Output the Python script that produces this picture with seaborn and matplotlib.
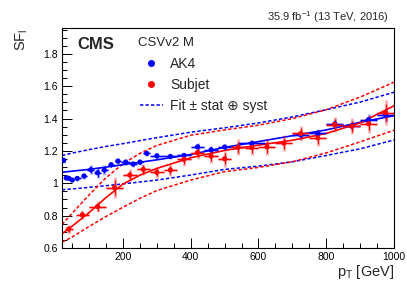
import numpy as np
import pandas as pd
import matplotlib
matplotlib.use("Agg")
import matplotlib.pyplot as plt
import seaborn as sns
from matplotlib.lines import Line2D
from matplotlib.ticker import MultipleLocator, FormatStrFormatter

# ---------------- data ----------------
ak4_pt = [25, 32.5, 40, 50, 65, 85, 105, 125, 145, 165, 185, 207.5, 230, 250, 270,
          300, 340, 380, 420, 460, 500, 580, 725, 775, 825, 875, 925, 975]
ak4_pt_hw = [5, 2.5, 5, 5, 10, 10, 10, 10, 10, 10, 10, 12.5, 10, 10, 10,
             20, 20, 20, 20, 20, 20, 40, 25, 25, 25, 25, 25, 25]
ak4_sf = [1.142, 1.033, 1.031, 1.020, 1.030, 1.045, 1.084, 1.065, 1.082, 1.115, 1.137,
          1.131, 1.119, 1.131, 1.185, 1.170, 1.166, 1.172, 1.225, 1.207, 1.224, 1.246,
          1.298, 1.308, 1.367, 1.355, 1.394, 1.422]
ak4_err = [0.010, 0.008, 0.008, 0.008, 0.010, 0.012, 0.020, 0.025, 0.020, 0.012, 0.012,
           0.012, 0.012, 0.012, 0.012, 0.012, 0.012, 0.012, 0.015, 0.015, 0.015, 0.015,
           0.018, 0.018, 0.020, 0.020, 0.025, 0.030]

sub_pt = [40, 80, 125, 175, 220, 260, 300, 340, 380, 420, 460, 500, 540, 580, 625,
          675, 725, 775, 825, 875, 925, 975]
sub_pt_hw = [12, 20, 25, 25, 20, 20, 20, 20, 20, 20, 20, 20, 20, 20, 25,
             25, 25, 25, 25, 25, 25, 25]
sub_sf = [0.717, 0.805, 0.856, 0.973, 1.051, 1.086, 1.067, 1.082, 1.148, 1.190, 1.168,
          1.152, 1.222, 1.221, 1.225, 1.248, 1.308, 1.280, 1.363, 1.353, 1.369, 1.437]
sub_err = [0.020, 0.020, 0.025, 0.045, 0.025, 0.025, 0.025, 0.025, 0.030, 0.030, 0.030,
           0.035, 0.035, 0.035, 0.035, 0.035, 0.035, 0.035, 0.035, 0.035, 0.040, 0.055]

# fit curves
fit_pt = [20, 50, 100, 150, 200, 250, 300, 400, 500, 600, 700, 800, 900, 1000]
ak4_fit = [1.068, 1.075, 1.086, 1.100, 1.115, 1.130, 1.145, 1.178, 1.222, 1.258, 1.294, 1.330, 1.377, 1.418]
ak4_fit_up = [1.172, 1.187, 1.208, 1.228, 1.245, 1.264, 1.282, 1.316, 1.343, 1.373, 1.410, 1.455, 1.502, 1.563]
ak4_fit_dn = [0.960, 0.965, 0.975, 0.985, 0.996, 1.008, 1.020, 1.051, 1.086, 1.106, 1.133, 1.172, 1.213, 1.268]
sub_fit = [0.688, 0.735, 0.819, 0.912, 0.995, 1.050, 1.092, 1.158, 1.203, 1.236, 1.266, 1.308, 1.373, 1.479]
sub_fit_up = [0.745, 0.815, 0.928, 1.035, 1.120, 1.185, 1.234, 1.297, 1.330, 1.359, 1.400, 1.455, 1.533, 1.625]
sub_fit_dn = [0.636, 0.668, 0.733, 0.795, 0.852, 0.907, 0.955, 1.020, 1.072, 1.098, 1.133, 1.188, 1.256, 1.328]

BLUE = "#0000ff"
RED = "#ff0000"

sns.set_style("ticks")
plt.rcParams["font.family"] = ["Liberation Sans", "DejaVu Sans"]
plt.rcParams["mathtext.fontset"] = "custom"
plt.rcParams["mathtext.rm"] = "Liberation Sans"
plt.rcParams["mathtext.it"] = "Liberation Sans"

fig = plt.figure(figsize=(4.07, 2.93), dpi=100)
ax = fig.add_axes([62 / 407, 45 / 293, (394 - 62) / 407, (248 - 28) / 293])

dash = (0, (2.2, 1.4))
fits = pd.DataFrame({"pt": fit_pt, "ak4": ak4_fit, "ak4_up": ak4_fit_up, "ak4_dn": ak4_fit_dn,
                     "sub": sub_fit, "sub_up": sub_fit_up, "sub_dn": sub_fit_dn})
for col, c in [("ak4_up", BLUE), ("ak4_dn", BLUE), ("sub_up", RED), ("sub_dn", RED)]:
    sns.lineplot(data=fits, x="pt", y=col, ax=ax, color=c, lw=1.1, linestyle=dash, legend=False)
sns.lineplot(data=fits, x="pt", y="ak4", ax=ax, color=BLUE, lw=1.2, legend=False)
sns.lineplot(data=fits, x="pt", y="sub", ax=ax, color=RED, lw=1.2, legend=False)

for pt, hw, sf, err, c in [(ak4_pt, ak4_pt_hw, ak4_sf, ak4_err, BLUE),
                           (sub_pt, sub_pt_hw, sub_sf, sub_err, RED)]:
    ax.errorbar(pt, sf, xerr=hw, yerr=np.array(err) * 1.4, fmt="none", ecolor=c,
                elinewidth=2.2, alpha=0.3, capsize=0)
    ax.errorbar(pt, sf, xerr=hw, yerr=err, fmt="none", ecolor=c, elinewidth=0.8, capsize=0)

pts = pd.concat([pd.DataFrame({"pt": ak4_pt, "sf": ak4_sf, "jet": "AK4"}),
                 pd.DataFrame({"pt": sub_pt, "sf": sub_sf, "jet": "Subjet"})])
sns.scatterplot(data=pts, x="pt", y="sf", hue="jet", palette={"AK4": BLUE, "Subjet": RED},
                s=14, edgecolor="none", ax=ax, legend=False, zorder=5)

ax.set_xlim(20, 1000)
ax.set_ylim(0.6, 1.96)
ax.xaxis.set_major_locator(MultipleLocator(200))
ax.xaxis.set_minor_locator(MultipleLocator(50))
ax.yaxis.set_major_locator(MultipleLocator(0.2))
ax.yaxis.set_minor_locator(MultipleLocator(0.05))
ax.yaxis.set_major_formatter(FormatStrFormatter("%g"))
ax.tick_params(which="both", direction="in", labelsize=7.5, width=0.7, colors="black")
ax.tick_params(which="major", length=7, pad=3)
ax.tick_params(which="minor", length=3.5)
for s in ax.spines.values():
    s.set_linewidth(0.8)
    s.set_color("black")

ax.set_xlabel("")
ax.set_ylabel("")
fig.text(394 / 407, 1 - 272 / 293, r"p$_{\mathregular{T}}$ [GeV]", ha="right", va="center", fontsize=10.5)
fig.text(22 / 407, 1 - 28 / 293, r"SF$_{\mathregular{l}}$", rotation=90, ha="center", va="top", fontsize=10.5)
fig.text(389 / 407, 1 - 17.5 / 293, r"35.9 fb$^{\mathregular{-1}}$ (13 TeV, 2016)", ha="right",
         va="center", fontsize=8)

fig.text(77 / 407, 1 - 44.5 / 293, "CMS", fontsize=12, fontweight="bold", ha="left", va="center")
fig.text(138 / 407, 1 - 43 / 293, "CSVv2 M", fontsize=9.5, ha="left", va="center")

handles = [Line2D([], [], ls="none", marker="o", color=BLUE, ms=4),
           Line2D([], [], ls="none", marker="o", color=RED, ms=4),
           Line2D([], [], ls=dash, color=BLUE, lw=1.1)]
labels = ["AK4", "Subjet", "Fit ± stat ⊕ syst"]
leg = ax.legend(handles, labels, loc="upper left", bbox_to_anchor=(140 / 407, 1 - 56.5 / 293),
                bbox_transform=fig.transFigure, frameon=False, fontsize=10,
                handlelength=1.65, handletextpad=0.5, labelspacing=0.53, borderpad=0, borderaxespad=0)

fig.savefig("out.png", dpi=100)
